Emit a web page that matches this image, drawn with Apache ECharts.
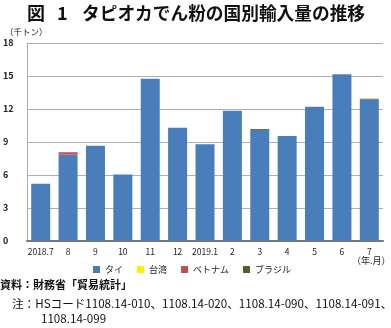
<!DOCTYPE html>
<html><head><meta charset="utf-8">
<script src="https://cdn.jsdelivr.net/npm/echarts@6/dist/echarts.min.js"></script>
<style>html,body{margin:0;padding:0;background:#fff}#c{width:391px;height:328px}</style>
</head><body><div id="c"></div>
<script>
const categories = ['2018.7','8','9','10','11','12','2019.1','2','3','4','5','6','7'];
const thai    = [5.2, 7.85, 8.65, 6.05, 14.75, 10.3, 8.8, 11.85, 10.1, 9.55, 12.2, 15.15, 12.85];
const taiwan  = [0, 0, 0, 0, 0, 0, 0, 0, 0, 0, 0, 0, 0];
const vietnam = [0, 0.22, 0, 0, 0, 0, 0, 0, 0, 0, 0, 0, 0];
const brazil  = [0, 0, 0, 0, 0, 0, 0, 0, 0.08, 0, 0, 0, 0.08];
const yTicks = [0, 3, 6, 9, 12, 15, 18];

const font = '"Noto Sans CJK JP", "Noto Sans", sans-serif';
const chart = echarts.init(document.getElementById('c'), null, {renderer:'canvas'});
const mk = (name, data, color) => ({
  name, type:'bar', stack:'a', data, barWidth: 19,
  itemStyle:{color}, emphasis:{disabled:true}
});
chart.setOption({
  animation:false,
  textStyle:{fontFamily:font},
  grid:{left:21, right:8, top:43, bottom:87, containLabel:false},
  legend:{data:['タイ','台湾','ベトナム','ブラジル'], top:260, left:88, itemWidth:7, itemHeight:7,
    itemGap:14, icon:'rect', textStyle:{fontSize:9, color:'#222', fontFamily:font}, selectedMode:false},
  xAxis:{type:'category', data:categories,
    axisLine:{lineStyle:{color:'#777', width:2}}, axisTick:{show:false},
    axisLabel:{fontSize:8.5, color:'#222', margin:7, interval:0}},
  yAxis:{type:'value', min:yTicks[0], max:yTicks[yTicks.length-1], interval:3,
    axisLine:{show:true, lineStyle:{color:'#aaa', width:1}}, axisTick:{show:false},
    splitLine:{lineStyle:{color:'#b0b0b0', width:1}},
    axisLabel:{fontSize:9, color:'#222', margin:8, fontWeight:'bold', align:'left',
      padding:[0,0,0,-16]}},
  series:[
    mk('タイ', thai, '#4a7ebb'),
    mk('台湾', taiwan, '#f5f500'),
    mk('ベトナム', vietnam, '#c0504d'),
    mk('ブラジル', brazil, '#4f6228')
  ],
  graphic:[
    {type:'text', left:27, top:4, style:{text:'図', fontSize:18, fontWeight:'bold', fill:'#111', fontFamily:font}},
    {type:'text', left:57, top:4, style:{text:'1', fontSize:18, fontWeight:'bold', fill:'#111', fontFamily:font}},
    {type:'text', left:82, top:4, style:{text:'タピオカでん粉の国別輸入量の推移', fontSize:17.7, fontWeight:'bold', fill:'#111', fontFamily:font}},
    {type:'text', left:5, top:28, style:{text:'（千トン）', fontSize:8.5, fill:'#222', fontFamily:font}},
    {type:'text', left:352, top:256, style:{text:'（年.月）', fontSize:9, fill:'#222', fontFamily:font}},
    {type:'text', left:0, top:279, style:{text:'資料：財務省「貿易統計」', fontSize:11, fontWeight:'bold', fill:'#111', fontFamily:font}},
    {type:'text', left:12, top:298, style:{text:'注：HSコード1108.14-010、1108.14-020、1108.14-090、1108.14-091、', fontSize:11.6, fill:'#111', fontFamily:font}},
    {type:'text', left:41, top:313, style:{text:'1108.14-099', fontSize:11.6, fill:'#111', fontFamily:font}}
  ]
});
</script></body></html>
